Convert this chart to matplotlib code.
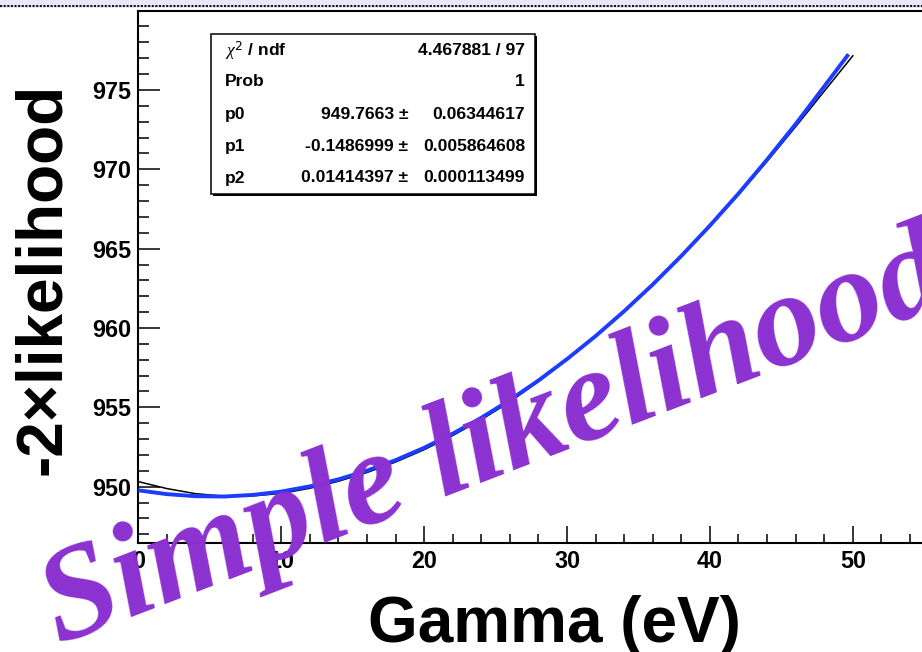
import matplotlib.pyplot as plt
from matplotlib.patches import Rectangle
from matplotlib.lines import Line2D
from matplotlib.ticker import MultipleLocator, FixedLocator

# scan of -2 log L versus Gamma
gamma = [0, 2, 4, 6, 8, 10, 12, 14, 16, 18, 20, 22, 24,
         26, 28, 30, 32, 34, 36, 38, 40, 42, 44, 46, 48, 50]
nll = [950.32, 949.88, 949.56, 949.40, 949.42, 949.57, 949.90, 950.34, 950.89,
       951.55, 952.33, 953.22, 954.22, 955.34, 956.62, 958.00, 959.47, 961.05,
       962.74, 964.52, 966.40, 968.40, 970.50, 972.68, 974.92, 977.15]

# pol2 fit curve
fit_gamma = [0, 2, 4, 6, 8, 10, 12, 14, 16, 18, 20, 22, 24,
             26, 28, 30, 32, 34, 36, 38, 40, 42, 44, 46, 48, 49.7]
fit_nll = [949.77, 949.53, 949.40, 949.38, 949.48, 949.69, 950.02, 950.46, 951.01,
           951.67, 952.45, 953.34, 954.34, 955.46, 956.69, 958.04, 959.49, 961.06,
           962.74, 964.54, 966.45, 968.47, 970.61, 972.85, 975.22, 977.25]

y_ticks = [950, 955, 960, 965, 970, 975]

stat_names = [r'$\chi^{2}$ / ndf', 'Prob', 'p0', 'p1', 'p2']
stat_values = ['', '', '949.7663 \u00b1', '-0.1486999 \u00b1', '0.01414397 \u00b1']
stat_errors = ['4.467881 / 97', '1', '0.06344617', '0.005864608', '0.000113499']

plt.rcParams['font.family'] = ['Liberation Sans', 'DejaVu Sans']
plt.rcParams['mathtext.fontset'] = 'custom'
plt.rcParams['mathtext.it'] = 'Liberation Serif:italic'

W, H = 922, 652
fig = plt.figure(figsize=(W / 100, H / 100), dpi=100)

def fx(px):
    return px / W

def fy(py):
    return 1 - py / H

# top strip of the canvas
fig.patches.append(Rectangle((0, fy(8)), 1, 8 / H, transform=fig.transFigure,
                             facecolor='#e8e8f8', edgecolor='none', zorder=0))
fig.lines.append(Line2D([0, 1], [fy(5.5), fy(5.5)], transform=fig.transFigure,
                        color='black', lw=1.3, linestyle=(0, (1.2, 0.8))))

x0, x1 = 138.3, 138.3 + 55 * 14.29
y0, y1 = 10.6, 542.7
ax = fig.add_axes([fx(x0), fy(y1), fx(x1 - x0), (y1 - y0) / H])
ax.plot(gamma, nll, color='black', lw=1.1, zorder=2)
ax.plot(fit_gamma, fit_nll, color='#1c3cff', lw=2.8, zorder=3, solid_capstyle='butt')
ax.set_xlim(0, 55)
ax.set_ylim(946.47, 980)

ax.xaxis.set_major_locator(MultipleLocator(10))
ax.xaxis.set_minor_locator(MultipleLocator(2))
ax.yaxis.set_major_locator(FixedLocator(y_ticks))
ax.yaxis.set_minor_locator(MultipleLocator(1))
ax.tick_params(axis='both', which='both', direction='in', width=1.1, top=False, right=False)
ax.tick_params(axis='x', which='major', length=12, pad=5, labelsize=16.8)
ax.tick_params(axis='x', which='minor', length=6.2)
ax.tick_params(axis='y', which='major', length=15.6, pad=5, labelsize=16.8)
ax.tick_params(axis='y', which='minor', length=7.7)
for lab in ax.get_xticklabels() + ax.get_yticklabels():
    lab.set_fontweight('bold')
for side in ['left', 'bottom', 'top']:
    ax.spines[side].set_linewidth(1.5)
ax.spines['right'].set_visible(False)

fig.text(fx(13), fy(279), '-2\u00d7likelihood', rotation=90, ha='left', va='center',
         fontsize=46, fontweight='bold')
fig.text(fx(554), fy(642), 'Gamma (eV)', ha='center', va='baseline',
         fontsize=46, fontweight='bold')

# stats box
bx0, by0, bx1, by1 = 211, 34, 535, 194
fig.patches.append(Rectangle((fx(bx0 + 2), fy(by1 + 2)), fx(bx1 - bx0), (by1 - by0) / H,
                             transform=fig.transFigure, facecolor='black', edgecolor='none', zorder=4))
fig.patches.append(Rectangle((fx(bx0), fy(by1)), fx(bx1 - bx0), (by1 - by0) / H,
                             transform=fig.transFigure, facecolor='white', edgecolor='black',
                             lw=1.1, zorder=5))
rows = [50.5, 82, 114.5, 146.5, 178]
for name, val, err, ry in zip(stat_names, stat_values, stat_errors, rows):
    fig.text(fx(225), fy(ry), name, ha='left', va='center', fontsize=12.6,
             fontweight='bold', zorder=6)
    fig.text(fx(408), fy(ry), val, ha='right', va='center', fontsize=12.6,
             fontweight='bold', zorder=6)
    fig.text(fx(525), fy(ry), err, ha='right', va='center', fontsize=12.6,
             fontweight='bold', zorder=6)

fig.text(fx(59), fy(645), 'Simple likelihood', rotation=21, rotation_mode='anchor',
         ha='left', va='baseline', fontsize=96, fontweight='bold', fontstyle='italic',
         family='Liberation Serif', color='#8b31d1', zorder=10)

plt.savefig('out.png', dpi=100)
